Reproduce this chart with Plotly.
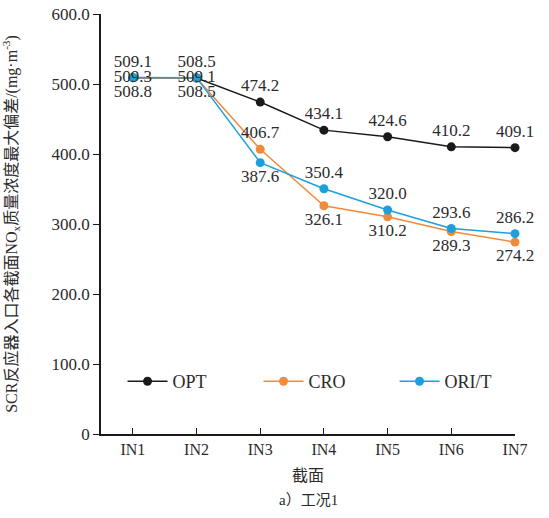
import plotly.graph_objects as go

categories = ["IN1", "IN2", "IN3", "IN4", "IN5", "IN6", "IN7"]
opt_values = [509.1, 508.5, 474.2, 434.1, 424.6, 410.2, 409.1]
cro_values = [508.8, 508.5, 406.7, 326.1, 310.2, 289.3, 274.2]
ori_values = [509.3, 509.1, 387.6, 350.4, 320.0, 293.6, 286.2]
y_tick_vals = [0, 100, 200, 300, 400, 500, 600]
y_tick_text = ["0", "100.0", "200.0", "300.0", "400.0", "500.0", "600.0"]

opt_pos = ["top center"] * 7
cro_pos = ["bottom center", "bottom center", "top center", "bottom center",
           "bottom center", "bottom center", "bottom center"]
ori_pos = ["middle center", "middle center", "bottom center", "top center",
           "top center", "top center", "top center"]

SERIF = "Liberation Serif, Times New Roman, serif"
label_font = dict(family=SERIF, size=17, color="#2b2b2b")

fig = go.Figure()
series = [
    ("OPT", opt_values, "#1a1a1a", opt_pos),
    ("CRO", cro_values, "#f08a3c", cro_pos),
    ("ORI/T", ori_values, "#1ba0dc", ori_pos),
]
for name, vals, color, pos in series:
    fig.add_trace(go.Scatter(
        x=categories, y=vals, name=name, mode="lines+markers+text",
        line=dict(color=color, width=1.5),
        marker=dict(color=color, size=9),
        text=[f"{v:.1f}" for v in vals],
        textposition=pos,
        textfont=label_font,
        cliponaxis=False,
    ))

fig.update_layout(
    width=549, height=518,
    margin=dict(l=101, r=34, t=14, b=84, autoexpand=False),
    paper_bgcolor="white", plot_bgcolor="white",
    font=dict(family=SERIF, size=16, color="#2b2b2b"),
    showlegend=True,
    legend=dict(
        orientation="h", x=0.052, y=0.125, xanchor="left", yanchor="middle",
        font=dict(family=SERIF, size=18, color="#2b2b2b"),
        bgcolor="rgba(0,0,0,0)", entrywidth=81, entrywidthmode="pixels",
        itemwidth=40,
    ),
    xaxis=dict(
        type="category", range=[-0.5, 6], automargin=False,
        showline=True, linecolor="#1a1a1a", linewidth=1.5,
        ticks="inside", ticklen=6, tickcolor="#1a1a1a", tickwidth=1.2,
        showgrid=False, zeroline=False,
        tickfont=dict(family=SERIF, size=16, color="#2b2b2b"),
        title=dict(text="截面", font=dict(family="Noto Sans CJK SC", size=16, color="#2b2b2b"), standoff=13),
    ),
    yaxis=dict(
        range=[0, 600], tickvals=y_tick_vals, ticktext=y_tick_text, automargin=False,
        ticklabeloverflow="allow",
        showline=True, linecolor="#1a1a1a", linewidth=1.5,
        ticks="outside", ticklen=6, tickcolor="#1a1a1a", tickwidth=1.2,
        showgrid=False, zeroline=False,
        tickfont=dict(family=SERIF, size=17, color="#2b2b2b"),
        title=dict(text="SCR反应器入口各截面NO<sub>x</sub>质量浓度最大偏差/(mg·m<sup>-3</sup>)",
                   font=dict(family="Liberation Serif, Noto Sans CJK SC", size=16, color="#2b2b2b"),
                   standoff=32),
    ),
)

fig.add_annotation(
    text="a）工况1", xref="paper", yref="paper", x=0.5, y=-0.157,
    showarrow=False, xanchor="center", yanchor="middle",
    font=dict(family="Liberation Serif, Noto Sans CJK SC", size=15, color="#2b2b2b"),
)

fig.write_html(
    "out.html",
    config={"displayModeBar": False},
    post_script="document.body.style.margin='0';document.body.style.overflow='hidden';",
)
